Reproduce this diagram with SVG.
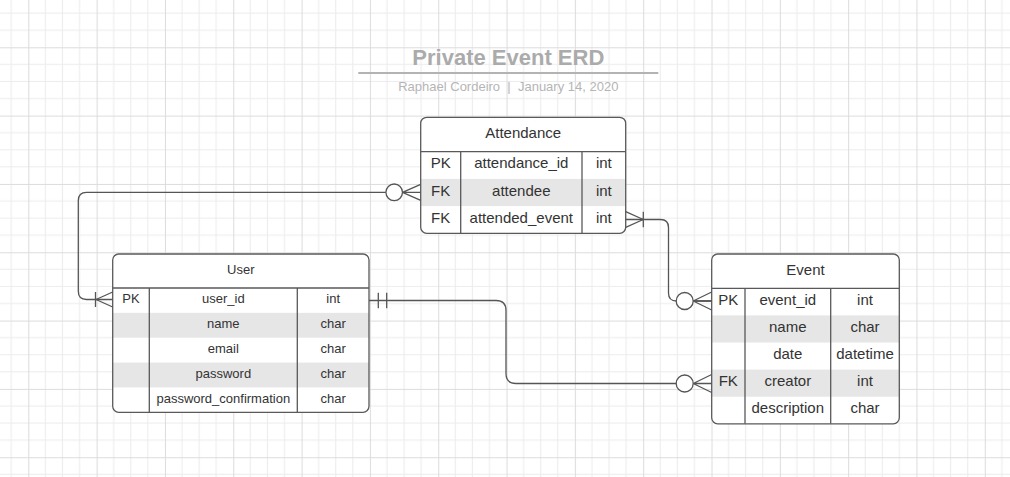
<svg xmlns="http://www.w3.org/2000/svg" width="1010" height="477" viewBox="0 0 1010 477">
<defs>
<pattern id="grid" patternUnits="userSpaceOnUse" x="28.3" y="47.3" width="68.32" height="68.32">
<rect width="68.32" height="68.32" fill="#ffffff"/>
<path d="M17.08,0V68.32M34.16,0V68.32M51.24,0V68.32M0,17.08H68.32M0,34.16H68.32M0,51.24H68.32" stroke="#ececec" stroke-width="1" fill="none"/>
<path d="M0.5,0V68.32M0,0.5H68.32" stroke="#dcdcdc" stroke-width="1" fill="none"/>
</pattern>
<style>
.box{fill:#ffffff;stroke:none}
.frame{fill:none;stroke:#595959;stroke-width:1.3}
.div{stroke:#595959;stroke-width:1.3;fill:none}
.shade{fill:#e6e6e6}
.t15{font-family:"Liberation Sans",Arial,sans-serif;font-size:15px;fill:#333333;text-anchor:middle}
.t13{font-family:"Liberation Sans",Arial,sans-serif;font-size:13px;fill:#333333;text-anchor:middle}
.conn{fill:none;stroke:#555555;stroke-width:1.3}
.circ{fill:#ffffff;stroke:#555555;stroke-width:1.3}
</style>
</defs>
<rect width="1010" height="477" fill="url(#grid)"/>

<g id="title">
<text x="508.3" y="65" font-family="'Liberation Sans',Arial,sans-serif" font-size="22" font-weight="bold" fill="#ababab" text-anchor="middle">Private Event ERD</text>
<line x1="358.3" y1="73" x2="658.3" y2="73" stroke="#b3b3b3" stroke-width="2"/>
<text x="508.3" y="90.5" font-family="'Liberation Sans',Arial,sans-serif" font-size="13" fill="#b5b5b5" text-anchor="middle" xml:space="preserve">Raphael Cordeiro  |  January 14, 2020</text>
</g>

<g id="attendance">
<rect class="box" x="420.7" y="117.3" width="205" height="116" rx="6"/>
<rect class="shade" x="420.7" y="178.9" width="205" height="27.2"/>
<path class="div" d="M420.7,151.7H625.7M460.7,151.7V233.3M582,151.7V233.3"/>
<rect class="frame" x="420.7" y="117.3" width="205" height="116" rx="6"/>
<text class="t15" x="523.2" y="137.5">Attendance</text>
<text class="t15" x="440.7" y="168.3">PK</text>
<text class="t15" x="521.3" y="168.3">attendance_id</text>
<text class="t15" x="603.8" y="168.3">int</text>
<text class="t15" x="440.7" y="195.5">FK</text>
<text class="t15" x="521.3" y="195.5">attendee</text>
<text class="t15" x="603.8" y="195.5">int</text>
<text class="t15" x="440.7" y="222.7">FK</text>
<text class="t15" x="521.3" y="222.7">attended_event</text>
<text class="t15" x="603.8" y="222.7">int</text>
</g>

<g id="user">
<rect class="box" x="112.7" y="254" width="256.3" height="158.3" rx="6"/>
<rect class="shade" x="112.7" y="312.86" width="256.3" height="24.86"/>
<rect class="shade" x="112.7" y="362.58" width="256.3" height="24.86"/>
<path class="div" d="M112.7,288H369M149.3,288V412.3M297.3,288V412.3"/>
<rect class="frame" x="112.7" y="254" width="256.3" height="158.3" rx="6"/>
<text class="t13" x="240.8" y="274">User</text>
<text class="t13" x="131" y="303.4">PK</text>
<text class="t13" x="223.3" y="303.4">user_id</text>
<text class="t13" x="333.2" y="303.4">int</text>
<text class="t13" x="223.3" y="328.3">name</text>
<text class="t13" x="333.2" y="328.3">char</text>
<text class="t13" x="223.3" y="353.1">email</text>
<text class="t13" x="333.2" y="353.1">char</text>
<text class="t13" x="223.3" y="378">password</text>
<text class="t13" x="333.2" y="378">char</text>
<text class="t13" x="223.3" y="402.8">password_confirmation</text>
<text class="t13" x="333.2" y="402.8">char</text>
</g>

<g id="event">
<rect class="box" x="711.7" y="254" width="187.6" height="169.8" rx="6"/>
<rect class="shade" x="711.7" y="315.4" width="187.6" height="27.1"/>
<rect class="shade" x="711.7" y="369.6" width="187.6" height="27.1"/>
<path class="div" d="M711.7,288.3H899.3M745,288.3V423.8M830.7,288.3V423.8"/>
<rect class="frame" x="711.7" y="254" width="187.6" height="169.8" rx="6"/>
<text class="t15" x="805.5" y="274.5">Event</text>
<text class="t15" x="728.3" y="304.8">PK</text>
<text class="t15" x="787.8" y="304.8">event_id</text>
<text class="t15" x="865" y="304.8">int</text>
<text class="t15" x="787.8" y="332">name</text>
<text class="t15" x="865" y="332">char</text>
<text class="t15" x="787.8" y="359">date</text>
<text class="t15" x="865" y="359">datetime</text>
<text class="t15" x="728.3" y="386.2">FK</text>
<text class="t15" x="787.8" y="386.2">creator</text>
<text class="t15" x="865" y="386.2">int</text>
<text class="t15" x="787.8" y="413.3">description</text>
<text class="t15" x="865" y="413.3">char</text>
</g>

<g id="connectors">
<!-- Attendance.attendee -> User.user_id -->
<path class="conn" d="M385.9,192.3H86.5Q78.3,192.3 78.3,200.5V291.3Q78.3,299.5 86.5,299.5H112.7"/>
<path class="conn" d="M95.5,292V307M96,299.5L112.7,292M96,299.5L112.7,307"/>
<circle class="circ" cx="394.2" cy="192.3" r="8.3"/>
<path class="conn" d="M402.5,192.3L420.7,184.3M402.5,192.3H420.7M402.5,192.3L420.7,200.3"/>
<!-- Attendance.attended_event -> Event.event_id -->
<path class="conn" d="M625.7,219.5H660.5Q668.5,219.5 668.5,227.5V293Q668.5,301 676.5,301H711.7"/>
<path class="conn" d="M643.3,211.7V227.3M643.3,219.5L625.7,211.7M643.3,219.5L625.7,227.3"/>
<circle class="circ" cx="684.7" cy="301" r="8.5"/>
<path class="conn" d="M693.2,301L711.7,292M693.2,301H711.7M693.2,301L711.7,310"/>
<!-- User.user_id -> Event.creator -->
<path class="conn" d="M369,300.5H496Q506,300.5 506,310.5V373.5Q506,383.5 516,383.5H676.2"/>
<path class="conn" d="M378.3,292.7V308.3M386.7,292.7V308.3"/>
<circle class="circ" cx="684.7" cy="383.5" r="8.5"/>
<path class="conn" d="M693.2,383.5L711.7,374.5M693.2,383.5H711.7M693.2,383.5L711.7,392.5"/>
</g>
</svg>
